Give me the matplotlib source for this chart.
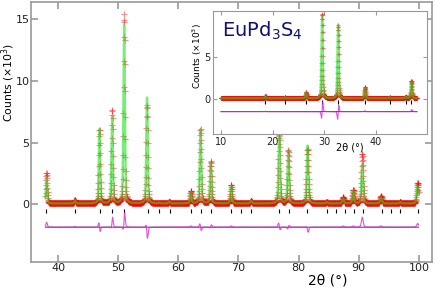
import numpy as np
import matplotlib.pyplot as plt

# main pattern: Bragg peak list (2theta, calc height, obs height, obs shift) in 10^3 counts
main_pos = [38.1, 42.8, 46.9, 49.0, 51.0, 54.8, 56.8, 58.5, 62.1, 63.7, 65.4, 68.8, 72.1,
            76.8, 78.3, 81.5, 84.7, 87.4, 89.1, 90.6, 93.7, 96.9, 99.8]
main_calc = [2.1, 0.25, 6.0, 7.0, 14.5, 8.6, 0.05, 0.15, 0.9, 6.0, 3.3, 1.4, 0.2,
             5.4, 4.3, 4.7, 0.1, 0.4, 1.0, 3.2, 0.5, 0.1, 1.4]
main_obs = [2.5, 0.3, 6.0, 7.6, 15.3, 8.0, 0.05, 0.15, 1.0, 6.0, 3.4, 1.5, 0.2,
            5.5, 4.3, 4.4, 0.1, 0.5, 1.1, 4.0, 0.6, 0.1, 1.7]
main_shift = [0.0, 0.0, -0.012, 0.01, 0.008, -0.012, 0.0, 0.0, 0.0, -0.01, 0.008, 0.0, 0.0,
              -0.012, 0.008, -0.01, 0.0, 0.0, 0.0, 0.0, 0.0, 0.0, 0.0]
main_ticks = [38.0, 42.8, 47.0, 49.0, 51.0, 54.9, 56.8, 58.6, 62.1, 63.8, 65.5, 68.8, 70.5,
              72.1, 76.8, 78.4, 81.4, 84.7, 86.3, 87.7, 89.2, 90.7, 93.8, 95.3, 96.9, 99.9]

# inset pattern (second data set)
ins_pos = [18.6, 22.4, 26.5, 29.6, 32.7, 37.9, 42.7, 45.8, 46.9]
ins_calc = [0.25, 0.1, 0.7, 9.7, 8.7, 1.2, 0.1, 0.2, 1.9]
ins_obs = [0.3, 0.1, 0.7, 10.0, 8.6, 1.3, 0.1, 0.2, 2.1]
ins_shift = [0.0, 0.0, 0.0, 0.02, 0.02, 0.0, 0.0, 0.0, 0.01]
ins_ticks = [18.6, 22.4, 26.5, 29.6, 32.7, 37.9, 42.7, 45.8, 46.9]


def profile(x, pos, h, shift=None, fwhm=0.25):
    y = np.full_like(x, 0.08)
    for i, (p, a) in enumerate(zip(pos, h)):
        s = shift[i] if shift else 0.0
        w = fwhm * (1 + (p - 30) / 150)
        g = np.exp(-4 * np.log(2) * ((x - p - s) / w) ** 2)
        l = 1 / (1 + 4 * ((x - p - s) / w) ** 2)
        y += a * (0.7 * g + 0.3 * l)
    return y


def draw(ax, x, pos, calc_h, obs_h, shift, ticks, off, tick_y, ms, fwhm):
    ycalc = profile(x, pos, calc_h, fwhm=fwhm)
    yobs = profile(x, pos, obs_h, shift, fwhm=fwhm)
    ax.plot(x, yobs, '+', color='red', ms=ms, mew=0.8, alpha=0.45, zorder=2)
    ax.plot(x, ycalc, color='#22e022', lw=1.7, alpha=0.6, zorder=3)
    ax.plot(x, np.full_like(x, off), color='#301030', lw=0.6, zorder=2)
    ax.plot(x, yobs - ycalc + off, color='#dd22dd', lw=0.8, alpha=0.8, zorder=3)
    ax.plot(ticks, [tick_y] * len(ticks), '|', color='black', ms=3, mew=0.8, zorder=2)


fig = plt.figure(figsize=(4.36, 2.88), dpi=100)
ax = fig.add_axes([0.071, 0.09, 0.92, 0.903])

x = np.arange(37.9, 100.0, 0.03)
draw(ax, x, main_pos, main_calc, main_obs, main_shift, main_ticks, -1.84, -0.55, 4, 0.25)
ax.set_xlim(35.5, 102.2)
ax.set_ylim(-4.67, 16.4)
ax.set_xticks([40, 50, 60, 70, 80, 90, 100])
ax.set_yticks([0, 5, 10, 15])
ax.set_xlabel('2θ (°)', fontsize=10)
ax.xaxis.set_label_coords(0.74, -0.042)
ax.set_ylabel('Counts (×10$^3$)', fontsize=7.8)
ax.yaxis.set_label_coords(-0.035, 0.69)
ax.tick_params(direction='in', top=True, right=True, labelsize=8, color='#999999',
               length=5, width=1.2, pad=1, labelcolor='#222222')
for s in ax.spines.values():
    s.set_color('#999999')
    s.set_linewidth(1.2)

axi = fig.add_axes([0.4885, 0.535, 0.4905, 0.427])
xi = np.arange(10.0, 48.0, 0.02)
draw(axi, xi, ins_pos, ins_calc, ins_obs, ins_shift, ins_ticks, -1.5, -0.3, 2.5, 0.28)
axi.set_xlim(8.45, 49.9)
axi.set_ylim(-4.13, 10.4)
axi.set_xticks([10, 20, 30, 40])
axi.set_yticks([0, 5])
axi.set_xlabel('2θ (°)', fontsize=7)
axi.xaxis.set_label_coords(0.64, -0.07)
axi.set_ylabel('Counts (×10$^3$)', fontsize=6.5)
axi.yaxis.set_label_coords(-0.04, 0.63)
axi.tick_params(direction='in', top=True, right=True, labelsize=7, color='#999999',
                length=3, pad=2, labelcolor='#222222')
for s in axi.spines.values():
    s.set_color('#999999')
axi.text(0.04, 0.93, 'EuPd$_3$S$_4$', transform=axi.transAxes, fontsize=14,
         color='#10107a', va='top', ha='left')

fig.savefig('out.png', dpi=100)
